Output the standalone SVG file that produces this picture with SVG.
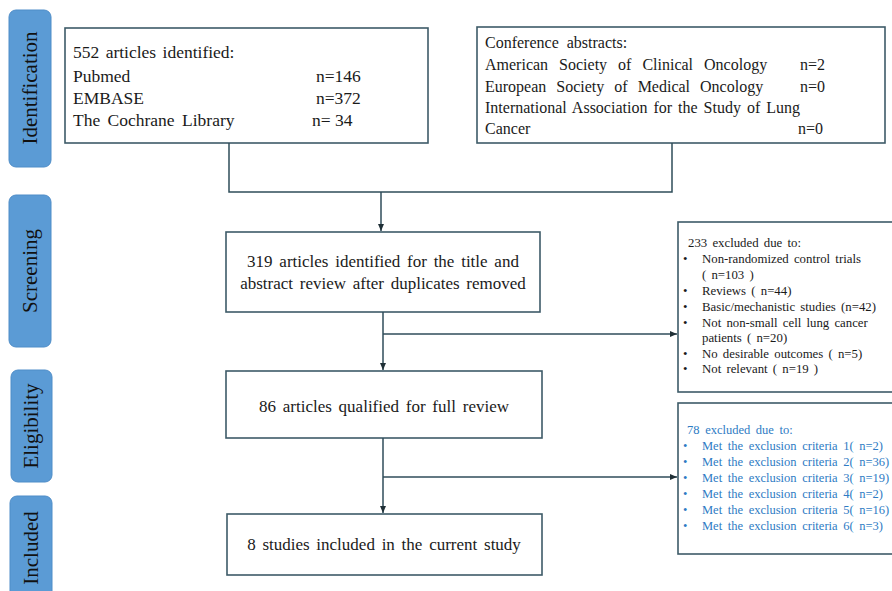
<svg xmlns="http://www.w3.org/2000/svg" width="892" height="591" viewBox="0 0 892 591">
<style>
.stage{fill:#5b9bd5;stroke:#4f8dc8;stroke-width:1}
.stxt{font-family:"Liberation Serif","Times New Roman",serif;font-size:21px;fill:#111;text-anchor:middle}
.box{fill:#fff;stroke:#3e5b68;stroke-width:1.6}
.t16{font-family:"Liberation Serif","Times New Roman",serif;font-size:16px;fill:#1a1a1a}
.t18{font-family:"Liberation Serif","Times New Roman",serif;font-size:17.5px;fill:#1a1a1a}
.t17{font-family:"Liberation Serif","Times New Roman",serif;font-size:17px;fill:#1a1a1a;text-anchor:middle;word-spacing:2.5px}
.t12{font-family:"Liberation Serif","Times New Roman",serif;font-size:12.8px;fill:#1a1a1a;word-spacing:2px}
.b12{font-family:"Liberation Serif","Times New Roman",serif;font-size:12.5px;fill:#2e7bc4;word-spacing:2.5px}
.conn{fill:none;stroke:#2f4d5a;stroke-width:1.5}
</style>
<defs>
<marker id="ah" markerUnits="userSpaceOnUse" markerWidth="8" markerHeight="8" refX="7" refY="4" orient="auto">
<path d="M0,1 L7,4 L0,7 Z" fill="#1f2f36"/>
</marker>
</defs>
<rect width="892" height="591" fill="#fff"/>

<g id="stage-identification">
<rect class="stage" x="9" y="10" width="42" height="157" rx="7"/>
<text class="stxt" transform="translate(37,88) rotate(-90)">Identification</text>
</g>
<g id="stage-screening">
<rect class="stage" x="9" y="195" width="42" height="152" rx="7"/>
<text class="stxt" transform="translate(37,271) rotate(-90)">Screening</text>
</g>
<g id="stage-eligibility">
<rect class="stage" x="11" y="370" width="41" height="112" rx="7"/>
<text class="stxt" transform="translate(38,426) rotate(-90)">Eligibility</text>
</g>
<g id="stage-included">
<rect class="stage" x="10" y="496" width="42" height="110" rx="7"/>
<text class="stxt" transform="translate(38,548) rotate(-90)">Included</text>
</g>

<g id="n-identified">
<rect class="box" x="65" y="28" width="363" height="115"/>
<text class="t18" x="73" y="58" word-spacing="2">552 articles identified:</text>
<text class="t18" x="73" y="82">Pubmed</text>
<text class="t18" x="316" y="82">n=146</text>
<text class="t18" x="73" y="104">EMBASE</text>
<text class="t18" x="316" y="104">n=372</text>
<text class="t18" x="73" y="126" word-spacing="3">The Cochrane Library</text>
<text class="t18" x="312" y="126">n= 34</text>
</g>

<g id="n-conference">
<rect class="box" x="477" y="27" width="408" height="116"/>
<text class="t16" x="485" y="48" word-spacing="4">Conference abstracts:</text>
<text class="t16" x="485" y="70" word-spacing="7">American Society of Clinical Oncology</text>
<text class="t16" x="800" y="70">n=2</text>
<text class="t16" x="485" y="92" word-spacing="6">European Society of Medical Oncology</text>
<text class="t16" x="800" y="92">n=0</text>
<text class="t16" x="485" y="113" word-spacing="2">International Association for the Study of Lung</text>
<text class="t16" x="485" y="134">Cancer</text>
<text class="t16" x="798" y="134">n=0</text>
</g>

<g id="n-screened">
<rect class="box" x="226" y="232" width="314" height="80"/>
<text class="t17" x="383" y="267">319 articles identified for the title and</text>
<text class="t17" x="383" y="289">abstract review after duplicates removed</text>
</g>

<g id="n-excluded233">
<rect class="box" x="678" y="222" width="222" height="170"/>
<text class="t12" x="688" y="247">233 excluded due to:</text>
<text class="t12" x="683" y="263">•</text><text class="t12" x="702" y="263">Non-randomized control trials</text>
<text class="t12" x="702" y="279">( n=103 )</text>
<text class="t12" x="683" y="295">•</text><text class="t12" x="702" y="295">Reviews ( n=44)</text>
<text class="t12" x="683" y="311">•</text><text class="t12" x="702" y="311">Basic/mechanistic studies (n=42)</text>
<text class="t12" x="683" y="327">•</text><text class="t12" x="702" y="327">Not non-small cell lung cancer</text>
<text class="t12" x="702" y="342">patients ( n=20)</text>
<text class="t12" x="683" y="358">•</text><text class="t12" x="702" y="358">No desirable outcomes ( n=5)</text>
<text class="t12" x="683" y="373">•</text><text class="t12" x="702" y="373">Not relevant ( n=19 )</text>
</g>

<g id="n-full">
<rect class="box" x="226" y="371" width="316" height="67"/>
<text class="t17" x="384" y="412">86 articles qualified for full review</text>
</g>

<g id="n-excluded78">
<rect class="box" x="678" y="403" width="222" height="151"/>
<text class="b12" x="687" y="434">78 excluded due to:</text>
<text class="b12" x="683" y="450">•</text><text class="b12" x="702" y="450">Met the exclusion criteria 1( n=2)</text>
<text class="b12" x="683" y="466">•</text><text class="b12" x="702" y="466">Met the exclusion criteria 2( n=36)</text>
<text class="b12" x="683" y="482">•</text><text class="b12" x="702" y="482">Met the exclusion criteria 3( n=19)</text>
<text class="b12" x="683" y="498">•</text><text class="b12" x="702" y="498">Met the exclusion criteria 4( n=2)</text>
<text class="b12" x="683" y="514">•</text><text class="b12" x="702" y="514">Met the exclusion criteria 5( n=16)</text>
<text class="b12" x="683" y="530">•</text><text class="b12" x="702" y="530">Met the exclusion criteria 6( n=3)</text>
</g>

<g id="n-included">
<rect class="box" x="227" y="514" width="315" height="61"/>
<text class="t17" x="384" y="550">8 studies included in the current study</text>
</g>

<g id="connectors">
<polyline class="conn" points="229,143 229,192 672,192 672,143"/>
<line class="conn" x1="381" y1="192" x2="381" y2="231" marker-end="url(#ah)"/>
<line class="conn" x1="383" y1="312" x2="383" y2="370" marker-end="url(#ah)"/>
<line class="conn" x1="383" y1="334" x2="677" y2="334" marker-end="url(#ah)"/>
<line class="conn" x1="383" y1="438" x2="383" y2="513" marker-end="url(#ah)"/>
<line class="conn" x1="383" y1="477" x2="677" y2="477" marker-end="url(#ah)"/>
</g>
</svg>
